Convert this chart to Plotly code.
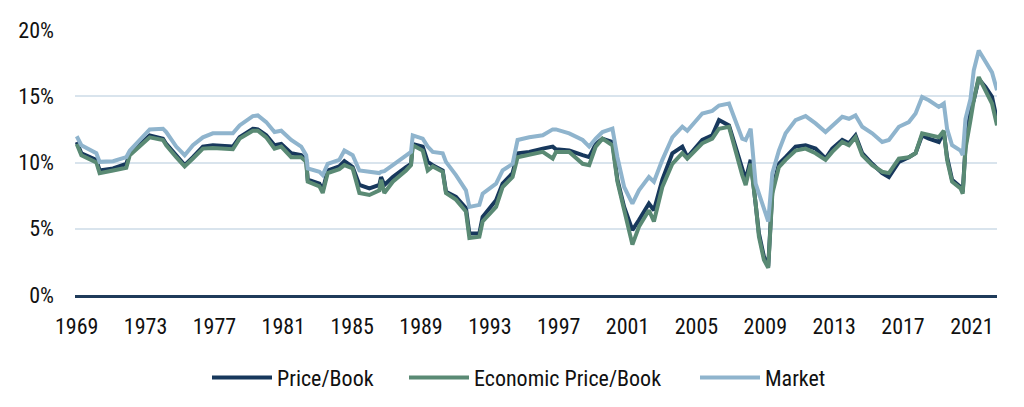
import plotly.graph_objects as go

years = [1969.00, 1969.27, 1970.14, 1970.33, 1971.11, 1971.88, 1972.08, 1973.24, 1974.01, 1974.20,
         1974.78, 1975.27, 1975.75, 1976.33, 1976.91, 1978.07, 1978.46, 1979.23, 1979.52, 1980.01,
         1980.49, 1980.88, 1981.46, 1982.04, 1982.33, 1982.42, 1983.10, 1983.29, 1983.58, 1984.25,
         1984.55, 1985.03, 1985.42, 1986.00, 1986.58, 1986.68, 1986.87, 1987.36, 1988.13, 1988.42,
         1988.52, 1989.10, 1989.39, 1989.68, 1990.26, 1990.45, 1991.03, 1991.61, 1991.81, 1992.39,
         1992.58, 1993.36, 1993.74, 1994.32, 1994.61, 1995.29, 1996.07, 1996.65, 1996.84, 1997.61,
         1998.39, 1998.77, 1999.15, 1999.54, 2000.12, 2000.41, 2000.80, 2001.28, 2001.66, 2002.24,
         2002.53, 2003.02, 2003.60, 2004.18, 2004.47, 2005.34, 2005.92, 2006.31, 2006.89, 2007.28,
         2007.66, 2007.86, 2008.15, 2008.44, 2008.63, 2008.92, 2009.17, 2009.41, 2009.79, 2010.18,
         2010.76, 2011.34, 2011.92, 2012.50, 2012.89, 2013.47, 2013.86, 2014.24, 2014.63, 2015.21,
         2015.79, 2016.18, 2016.76, 2017.34, 2017.73, 2018.11, 2018.50, 2019.08, 2019.37, 2019.56,
         2019.85, 2020.34, 2020.47, 2020.63, 2020.92, 2021.11, 2021.40, 2021.79, 2022.17, 2022.46]

market = [11.98, 11.3, 10.7, 10.05, 10.1, 10.4, 10.9, 12.5, 12.55, 12.3,
          11.2, 10.55, 11.3, 11.9, 12.2, 12.2, 12.8, 13.5, 13.55, 13.05,
          12.3, 12.4, 11.7, 11.2, 10.55, 9.55, 9.3, 9.05, 9.9, 10.2,
          10.9, 10.55, 9.4, 9.3, 9.2, 9.3, 9.35, 9.8, 10.55, 10.8,
          12.05, 11.8, 11.2, 10.8, 10.7, 10.05, 9.05, 7.9, 6.65, 6.8,
          7.65, 8.4, 9.4, 9.9, 11.7, 11.9, 12.05, 12.5, 12.5, 12.2,
          11.7, 11.2, 11.8, 12.3, 12.55, 10.4, 8.15, 6.9, 7.9, 8.9,
          8.55, 10.2, 11.9, 12.7, 12.4, 13.7, 13.9, 14.3, 14.45, 13.2,
          11.8, 11.7, 12.55, 8.4, 7.65, 6.3, 5.55, 9.2, 10.9, 12.2,
          13.2, 13.5, 12.95, 12.3, 12.8, 13.45, 13.3, 13.55, 12.7, 12.2,
          11.55, 11.7, 12.7, 13.05, 13.7, 14.95, 14.7, 14.2, 14.45, 12.55,
          11.3, 10.9, 10.55, 13.3, 14.8, 16.95, 18.45, 17.55, 16.8, 15.45]

price_book = [11.55, 10.7, 10.2, 9.4, 9.55, 9.9, 10.7, 12.05, 11.8, 11.4,
              10.55, 9.8, 10.4, 11.2, 11.3, 11.2, 11.9, 12.55, 12.5, 12.05,
              11.3, 11.4, 10.7, 10.55, 10.2, 8.7, 8.4, 7.9, 9.4, 9.7,
              10.1, 9.65, 8.3, 8.05, 8.3, 8.9, 8.3, 8.9, 9.65, 9.9,
              11.4, 11.2, 10.05, 9.8, 9.4, 7.8, 7.4, 6.55, 4.65, 4.65,
              5.9, 7.15, 8.4, 9.2, 10.7, 10.8, 11.05, 11.2, 11.0, 10.9,
              10.55, 10.4, 11.4, 11.8, 11.55, 8.7, 6.65, 4.9, 5.65, 6.9,
              6.4, 8.7, 10.7, 11.2, 10.4, 11.7, 12.05, 13.2, 12.8, 11.2,
              9.4, 8.7, 10.2, 7.15, 4.65, 2.9, 2.15, 7.9, 9.9, 10.4,
              11.2, 11.3, 11.05, 10.3, 11.05, 11.7, 11.45, 12.05, 10.7, 9.9,
              9.2, 8.9, 10.05, 10.4, 10.7, 12.05, 11.8, 11.55, 12.3, 10.4,
              8.7, 8.15, 7.8, 11.2, 13.95, 14.7, 16.3, 15.7, 14.95, 13.2]

economic_pb = [11.4, 10.55, 10.0, 9.2, 9.4, 9.6, 10.55, 11.9, 11.7, 11.3,
               10.4, 9.7, 10.3, 11.05, 11.1, 11.0, 11.8, 12.4, 12.4, 11.9,
               11.05, 11.2, 10.4, 10.4, 10.05, 8.55, 8.2, 7.7, 9.2, 9.5,
               9.8, 9.55, 7.7, 7.55, 7.9, 8.7, 7.7, 8.55, 9.4, 9.8,
               11.3, 10.9, 9.4, 9.7, 9.3, 7.7, 7.2, 6.3, 4.3, 4.4,
               5.55, 6.65, 8.15, 8.9, 10.4, 10.6, 10.8, 10.3, 10.8, 10.8,
               9.9, 9.8, 11.2, 11.8, 11.3, 8.55, 6.4, 3.8, 5.15, 6.4,
               5.55, 8.15, 9.9, 10.7, 10.3, 11.45, 11.8, 12.55, 12.7, 10.7,
               9.05, 8.3, 9.9, 6.9, 4.4, 2.65, 2.05, 7.65, 9.65, 10.2,
               10.9, 11.05, 10.7, 10.2, 10.8, 11.55, 11.3, 11.9, 10.55, 9.8,
               9.3, 9.2, 10.3, 10.4, 10.7, 12.2, 12.05, 11.9, 12.4, 10.2,
               8.55, 8.05, 7.65, 11.05, 13.2, 14.7, 16.45, 15.45, 14.45, 12.8]

tick_years = list(range(1969, 2022, 4))
y_ticks = [0, 5, 10, 15, 20]

FONT = "Liberation Sans Narrow, Roboto Condensed, DejaVu Sans Condensed, Roboto, sans-serif"
W, H = 1024, 407

fig = go.Figure()
fig.add_trace(go.Scatter(x=years, y=price_book, name="Price/Book", mode="lines",
                         legend="legend", line=dict(color="#17385c", width=4)))
fig.add_trace(go.Scatter(x=years, y=economic_pb, name="Economic Price/Book", mode="lines",
                         legend="legend2", line=dict(color="#5a8a74", width=4)))
fig.add_trace(go.Scatter(x=years, y=market, name="Market", mode="lines",
                         legend="legend3", line=dict(color="#8fb4cd", width=4)))

def leg(x_px):
    return dict(orientation="h", x=x_px / W, xref="container", xanchor="left",
                y=0.072, yref="container", yanchor="middle",
                itemwidth=60, font=dict(size=22), bgcolor="rgba(0,0,0,0)")

fig.update_layout(
    width=W, height=H,
    margin=dict(l=75, r=27, t=30, b=112, autoexpand=False),
    paper_bgcolor="white", plot_bgcolor="white",
    font=dict(family=FONT, size=22, color="#111111"),
    showlegend=True,
    legend=leg(207), legend2=leg(404), legend3=leg(695),
    xaxis=dict(range=[1968.9, 2022.46], tickvals=tick_years,
               ticktext=[str(t) for t in tick_years], automargin=False,
               showgrid=False, zeroline=False, showline=True,
               linecolor="#1f3b5a", linewidth=2.5, ticks="",
               ticklabelstandoff=10),
    yaxis=dict(range=[0, 20], tickvals=y_ticks, automargin=False,
               ticktext=[f"{v}%" for v in y_ticks],
               showgrid=True, gridcolor="#d9e4ed", gridwidth=1.5,
               zeroline=False, showline=False, ticks="",
               ticklabelstandoff=20),
)

fig.write_html("out.html", config={"displayModeBar": False},
               post_script="document.body.style.margin='0';")
